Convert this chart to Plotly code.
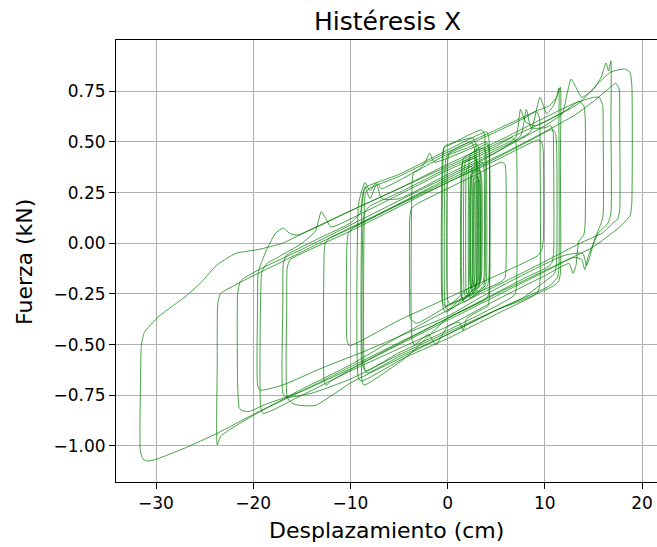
import plotly.graph_objects as go

# Hysteresis loops: (displacement cm, force kN)
loop_a = [(-30.8,-1.075),(-31.35,-1.065),(-31.62,-1.02),(-31.6,-0.70),(-31.5,-0.50),(-31.2,-0.44),(-30.7,-0.41),
          (-29.7,-0.36),(-28.3,-0.31),(-26.9,-0.26),(-25.3,-0.19),(-23.8,-0.11),(-21.8,-0.05),(-19.4,-0.03),
          (-17.0,0.0),(-14.0,0.07),(-10.0,0.16),(-5.0,0.27),(0.0,0.38),(5.0,0.49),(10.0,0.60),(13.5,0.69),
          (15.5,0.79),(16.8,0.845),(18.2,0.86),(18.75,0.845),(18.95,0.78),(18.95,0.20),(18.8,0.14),(18.3,0.11),
          (17.7,0.08),(14.9,-0.02),(11.5,-0.10),(5.0,-0.25),(0.0,-0.37),(-5.0,-0.49),(-10.0,-0.61),(-16.3,-0.76),
          (-19.4,-0.83),(-23.8,-0.94),(-27.0,-1.01),(-30.0,-1.066),(-30.8,-1.075)]
loop_b = [(-23.7,-0.995),(-23.7,-0.60),(-23.65,-0.30),(-23.4,-0.25),(-22.8,-0.23),(-20.4,-0.17),(-17.0,-0.09),
          (-12.0,0.03),(-6.0,0.17),(0.0,0.31),(6.0,0.45),(10.0,0.55),(13.0,0.63),(15.0,0.70),(16.5,0.76),
          (17.3,0.79),(17.65,0.76),(17.7,0.60),(17.7,0.16),(17.5,0.12),(17.0,0.10),(15.9,0.05),(13.6,0.0),
          (10.0,-0.09),(5.0,-0.21),(0.0,-0.33),(-5.0,-0.46),(-10.0,-0.60),(-15.0,-0.72),(-20.0,-0.85),
          (-23.3,-0.95),(-23.7,-0.995)]
loop_c = [(-21.45,-0.81),(-21.6,-0.70),(-21.6,-0.25),(-21.35,-0.19),(-20.9,-0.17),(-19.0,-0.12),(-15.0,-0.03),
          (-10.0,0.09),(-5.0,0.21),(0.0,0.33),(5.0,0.45),(10.0,0.58),(11.8,0.64),(12.3,0.74),(12.7,0.81),
          (13.2,0.77),(13.8,0.72),(15.0,0.76),(15.8,0.82),(16.3,0.89),(16.55,0.85),(16.8,0.90),(16.8,0.60),
          (16.8,0.15),(16.5,0.10),(15.5,0.05),(14.5,-0.06),(14.1,-0.13),(13.8,-0.08),(13.0,-0.07),(10.0,-0.14),
          (5.0,-0.26),(0.0,-0.38),(-5.0,-0.50),(-10.0,-0.62),(-15.0,-0.73),(-19.0,-0.80),(-20.4,-0.83),
          (-21.2,-0.825),(-21.45,-0.81)]
loop_d = [(-19.3,-0.725),(-19.55,-0.70),(-19.55,-0.30),(-19.5,-0.15),(-19.2,-0.10),(-18.5,-0.02),(-17.7,0.05),
          (-16.9,0.075),(-16.3,0.05),(-15.5,0.04),(-13.0,0.09),(-10.0,0.16),(-5.0,0.27),(0.0,0.39),(5.0,0.50),
          (10.0,0.62),(13.0,0.69),(15.0,0.72),(15.6,0.72),(15.95,0.68),(16.0,0.55),(16.0,0.14),(15.8,0.10),
          (15.2,0.03),(14.6,-0.07),(14.3,-0.11),(13.9,-0.05),(12.0,-0.06),(8.0,-0.15),(4.0,-0.25),(0.0,-0.36),
          (-4.0,-0.44),(-8.4,-0.53),(-12.9,-0.615),(-17.0,-0.70),(-19.3,-0.725)]
loop_e = [(-19.0,-0.84),(-19.25,-0.80),(-19.25,-0.30),(-19.1,-0.14),(-18.6,-0.10),(-17.5,-0.07),(-15.0,0.0),
          (-13.6,0.06),(-13.0,0.156),(-12.5,0.12),(-12.0,0.08),(-10.0,0.12),(-5.0,0.24),(0.0,0.36),(5.0,0.47),
          (7.0,0.52),(7.5,0.66),(8.0,0.60),(9.0,0.58),(12.0,0.65),(13.5,0.70),(14.0,0.68),(14.15,0.62),
          (14.15,0.10),(14.0,0.04),(13.5,0.01),(13.2,-0.11),(12.9,-0.148),(12.5,-0.10),(10.0,-0.16),(5.0,-0.28),
          (0.0,-0.41),(-5.0,-0.52),(-10.0,-0.63),(-15.0,-0.75),(-19.0,-0.84)]
loop_f = [(-16.6,-0.76),(-16.95,-0.74),(-16.95,-0.30),(-16.9,-0.10),(-16.6,-0.06),(-15.5,-0.03),(-13.0,0.03),
          (-10.0,0.10),(-9.0,0.15),(-8.5,0.28),(-8.0,0.22),(-7.3,0.29),(-6.8,0.22),(-5.0,0.22),(0.0,0.34),
          (5.0,0.46),(8.5,0.55),(9.5,0.72),(10.2,0.64),(10.9,0.68),(11.35,0.74),(11.6,0.77),(11.6,0.40),
          (11.6,-0.15),(11.4,-0.19),(10.9,-0.21),(10.5,-0.22),(7.7,-0.28),(5.0,-0.33),(0.0,-0.44),(-5.0,-0.55),
          (-10.0,-0.67),(-14.0,-0.74),(-16.6,-0.76)]
loop_g = [(-13.6,-0.80),(-15.2,-0.80),(-16.0,-0.79),(-16.5,-0.76),(-16.55,-0.30),(-16.5,-0.12),(-16.2,-0.08),
          (-15.0,-0.05),(-10.0,0.06),(-5.0,0.18),(0.0,0.30),(5.0,0.42),(9.0,0.52),(10.6,0.56),(11.05,0.55),
          (11.2,0.50),(11.2,-0.10),(11.0,-0.15),(10.5,-0.17),(7.7,-0.27),(5.0,-0.33),(0.0,-0.45),(-5.0,-0.57),
          (-10.0,-0.69),(-13.6,-0.80)]
loop_h = [(-12.5,-0.70),(-12.7,-0.68),(-12.7,-0.05),(-12.6,0.0),(-12.3,0.02),(-11.0,0.05),(-8.0,0.12),
          (-4.0,0.22),(0.0,0.32),(4.0,0.42),(7.5,0.53),(8.1,0.66),(8.6,0.57),(10.0,0.57),(10.6,0.58),
          (10.85,0.55),(10.9,0.45),(10.9,-0.05),(10.7,-0.10),(10.2,-0.12),(8.0,-0.17),(4.0,-0.27),(0.0,-0.37),
          (-4.0,-0.47),(-8.0,-0.57),(-12.0,-0.68),(-12.5,-0.70)]
loop_i = [(-10.1,-0.505),(-10.35,-0.48),(-10.35,0.0),(-10.2,0.05),(-9.7,0.075),(-5.0,0.19),(0.0,0.30),
          (5.0,0.41),(9.4,0.51),(9.75,0.49),(9.85,0.44),(9.85,0.02),(9.7,-0.03),(9.3,-0.06),(5.0,-0.16),
          (0.0,-0.27),(-5.0,-0.38),(-10.1,-0.505)]
loop_j = [(-8.9,-0.68),(-9.2,-0.66),(-9.2,0.18),(-9.0,0.23),(-8.5,0.30),(-8.0,0.26),(-7.3,0.30),(-6.8,0.27),
          (-5.0,0.31),(0.0,0.44),(5.0,0.55),(8.0,0.62),(9.1,0.65),(9.45,0.62),(9.5,0.55),(9.5,-0.19),
          (9.3,-0.24),(8.8,-0.26),(5.0,-0.35),(0.0,-0.47),(-4.2,-0.56),(-5.0,-0.58),(-8.9,-0.68)]
loop_k = [(-8.4,-0.63),(-8.7,-0.61),(-8.7,0.10),(-8.55,0.15),(-8.1,0.18),(-5.0,0.25),(0.0,0.37),(5.0,0.48),
          (6.6,0.52),(6.95,0.51),(7.1,0.46),(7.1,-0.20),(6.95,-0.25),(6.5,-0.27),(5.0,-0.31),(0.0,-0.43),
          (-5.0,-0.54),(-8.4,-0.63)]
loop_l = [(-3.2,-0.395),(-3.85,-0.37),(-3.9,-0.30),(-3.9,0.12),(-3.75,0.17),(-3.3,0.19),(0.0,0.27),(3.0,0.34),
          (5.5,0.40),(5.9,0.39),(6.0,0.34),(6.0,-0.13),(5.9,-0.17),(5.5,-0.19),(3.0,-0.245),(0.0,-0.31),
          (-3.2,-0.395)]
loop_m = [(-3.4,-0.50),(-3.65,-0.48),(-3.65,0.30),(-3.5,0.35),(-3.0,0.36),(-2.3,0.40),(-1.85,0.445),
          (-1.4,0.40),(0.0,0.42),(3.0,0.48),(4.0,0.50),(4.25,0.48),(4.3,0.42),(4.3,-0.26),(4.15,-0.31),
          (3.8,-0.32),(2.0,-0.37),(1.6,-0.43),(1.2,-0.39),(0.0,-0.41),(-1.2,-0.50),(-2.0,-0.45),(-3.4,-0.50)]
loop_n = [(-0.3,-0.31),(-0.55,-0.29),(-0.55,0.42),(-0.4,0.47),(0.0,0.48),(2.0,0.53),(3.5,0.56),(3.8,0.54),
          (3.85,0.48),(3.85,-0.17),(3.7,-0.21),(3.3,-0.23),(1.5,-0.27),(-0.3,-0.31)]
loop_o = [(0.0,-0.33),(-0.25,-0.31),(-0.25,0.38),(-0.1,0.43),(0.3,0.44),(2.0,0.47),(3.0,0.49),(3.25,0.46),
          (3.3,0.40),(3.3,-0.18),(3.15,-0.22),(2.8,-0.24),(1.0,-0.29),(0.0,-0.33)]
loop_p = [(0.25,-0.30),(0.0,-0.28),(0.0,0.40),(0.2,0.45),(0.6,0.46),(2.4,0.50),(2.75,0.47),(2.8,0.40),
          (2.8,-0.17),(2.6,-0.21),(2.2,-0.22),(0.25,-0.30)]
loop_q = [(1.6,-0.28),(1.4,-0.26),(1.4,0.35),(1.55,0.40),(2.0,0.41),(2.8,0.43),(3.0,0.40),(3.0,-0.18),
          (2.85,-0.22),(2.4,-0.24),(1.6,-0.28)]
loop_r = [(2.0,-0.25),(1.9,-0.23),(1.9,0.33),(2.0,0.37),(2.45,0.38),(2.6,0.34),(2.6,-0.16),(2.5,-0.21),
          (2.0,-0.25)]
loop_s = [(2.45,-0.22),(2.3,-0.20),(2.3,0.30),(2.45,0.34),(3.3,0.36),(3.5,0.32),(3.5,-0.15),(3.35,-0.19),
          (2.45,-0.22)]
loop_t = [(2.7,-0.21),(2.6,-0.19),(2.6,0.28),(2.7,0.32),(3.1,0.33),(3.2,0.29),(3.2,-0.16),(3.1,-0.19),
          (2.7,-0.21)]
loop_u = [(2.35,-0.27),(2.2,-0.25),(2.2,0.40),(2.35,0.44),(4.0,0.49),(4.25,0.46),(4.25,-0.16),(4.1,-0.21),
          (3.6,-0.23),(2.35,-0.27)]
loop_v = [(-8.3,-0.64),(-8.55,-0.62),(-8.55,0.20),(-8.45,0.25),(-8.1,0.27),(-5.0,0.33),(0.0,0.45),(5.0,0.56),
          (9.0,0.65),(10.5,0.68),(11.2,0.72),(11.45,0.765),(11.45,0.60),(11.45,-0.12),(11.3,-0.17),
          (10.9,-0.19),(10.5,-0.21),(5.0,-0.33),(0.0,-0.45),(-5.0,-0.56),(-8.3,-0.64)]
loop_w = [(-0.2,-0.34),(-0.45,-0.32),(-0.45,0.44),(-0.3,0.48),(0.2,0.49),(2.6,0.52),(2.9,0.49),(2.95,0.42),
          (2.95,-0.19),(2.8,-0.23),(2.4,-0.25),(-0.2,-0.34)]
loop_x = [(1.7,-0.29),(1.5,-0.27),(1.5,0.38),(1.65,0.42),(3.7,0.47),(3.95,0.44),(4.0,0.38),(4.0,-0.17),
          (3.85,-0.21),(3.4,-0.23),(1.7,-0.29)]
loop_y = [(2.6,-0.23),(2.45,-0.21),(2.45,0.31),(2.55,0.35),(3.2,0.37),(3.4,0.33),(3.4,-0.17),(3.25,-0.21),
          (2.6,-0.23)]
loop_z = [(2.85,-0.22),(2.75,-0.20),(2.75,0.26),(2.85,0.30),(3.25,0.31),(3.35,0.27),(3.35,-0.15),(3.25,-0.19),
          (2.85,-0.22)]
loop_aa = [(1.85,-0.26),(1.7,-0.24),(1.7,0.36),(1.85,0.40),(2.9,0.42),(3.1,0.38),(3.1,-0.17),(2.95,-0.21),
           (1.85,-0.26)]
loop_bb = [(2.5,-0.24),(2.4,-0.22),(2.4,0.33),(2.5,0.37),(3.6,0.40),(3.75,0.36),(3.75,-0.16),(3.6,-0.20),
           (2.5,-0.24)]
loop_cc = [(-8.6,-0.70),(-8.8,-0.68),(-8.8,0.22),(-8.65,0.26),(-8.3,0.28),(-5.0,0.34),(0.0,0.46),(4.0,0.55),
           (4.2,0.53),(4.3,0.48),(4.3,-0.22),(4.15,-0.26),(3.8,-0.28),(0.0,-0.37),(-4.2,-0.56),(-8.6,-0.70)]

loops = [loop_a, loop_b, loop_c, loop_d, loop_e, loop_f, loop_g, loop_h, loop_i, loop_j, loop_k,
         loop_l, loop_m, loop_n, loop_o, loop_p, loop_q, loop_r, loop_s, loop_t, loop_u, loop_v,
         loop_w, loop_x, loop_y, loop_z, loop_aa, loop_bb, loop_cc]

x_ticks = [-30, -20, -10, 0, 10, 20]
x_ticktext = ["\u221230", "\u221220", "\u221210", "0", "10", "20"]
y_ticks = [-1.0, -0.75, -0.5, -0.25, 0.0, 0.25, 0.5, 0.75]
y_ticktext = ["\u22121.00", "\u22120.75", "\u22120.50", "\u22120.25", "0.00", "0.25", "0.50", "0.75"]

FONT = "DejaVu Sans"
fig = go.Figure()
for lp in loops:
    fig.add_trace(go.Scatter(x=[p[0] for p in lp], y=[p[1] for p in lp], mode="lines",
                             line=dict(color="rgba(0,128,0,0.72)", width=1.0, shape="spline", smoothing=0.5),
                             hoverinfo="skip", showlegend=False))

W, H = 657, 547
L, R, T, B = 116, 0, 40, 65
pw = W - L - R
ph = H - T - B


def px_to_paper(px, py):
    return (px - L) / pw, (H - py - B) / ph


tx, ty = px_to_paper(387, 22)
xl_x, xl_y = px_to_paper(386, 530)
yl_x, yl_y = px_to_paper(24, 262)

fig.update_layout(
    width=W, height=H,
    margin=dict(l=L, r=R, t=T, b=B),
    plot_bgcolor="white", paper_bgcolor="white",
    font=dict(family=FONT, color="black", size=17),
    showlegend=False,
    xaxis=dict(range=[-34.115, 21.54], tickvals=x_ticks, ticktext=x_ticktext,
               ticks="outside", ticklen=6, tickwidth=1, tickcolor="black",
               showline=True, linecolor="black", linewidth=1, mirror=True,
               showgrid=True, gridcolor="#b0b0b0", gridwidth=1, zeroline=False,
               tickfont=dict(size=17, family=FONT, color="black")),
    yaxis=dict(range=[-1.178, 1.003], tickvals=y_ticks, ticktext=y_ticktext,
               ticks="outside", ticklen=6, tickwidth=1, tickcolor="black",
               showline=True, linecolor="black", linewidth=1, mirror=False,
               showgrid=True, gridcolor="#b0b0b0", gridwidth=1, zeroline=False,
               tickfont=dict(size=17, family=FONT, color="black")),
    annotations=[
        dict(text="Histéresis X", x=tx, y=ty, xref="paper", yref="paper", showarrow=False,
             font=dict(size=25, family=FONT, color="black"), xanchor="center", yanchor="middle"),
        dict(text="Desplazamiento (cm)", x=xl_x, y=xl_y, xref="paper", yref="paper", showarrow=False,
             font=dict(size=22, family=FONT, color="black"), xanchor="center", yanchor="middle"),
        dict(text="Fuerza (kN)", x=yl_x, y=yl_y, xref="paper", yref="paper", showarrow=False, textangle=-90,
             font=dict(size=22, family=FONT, color="black"), xanchor="center", yanchor="middle"),
    ],
)

fig.write_html("out.html", config={"displayModeBar": False})
